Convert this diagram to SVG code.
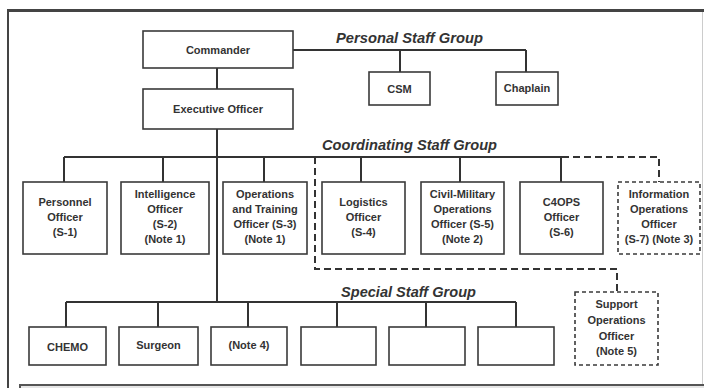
<svg xmlns="http://www.w3.org/2000/svg" width="704" height="388" viewBox="0 0 704 388">
<style>
.box{fill:#fff;stroke:#3a3a3a;stroke-width:1.6}
.dbox{fill:#fff;stroke:#3a3a3a;stroke-width:1.6;stroke-dasharray:4 3}
.ln{fill:none;stroke:#333;stroke-width:2}
.dln{fill:none;stroke:#333;stroke-width:2;stroke-dasharray:7 4}
.t{font-family:"Liberation Sans",Arial,sans-serif;font-weight:bold;font-size:11px;fill:#333;text-anchor:middle}
.g{font-family:"Liberation Sans",Arial,sans-serif;font-weight:bold;font-style:italic;font-size:15px;fill:#333}
</style>
<rect x="0" y="0" width="704" height="388" fill="#fff"/>
<g id="frame">
<line x1="8" y1="10.5" x2="704" y2="10.5" stroke="#444" stroke-width="3"/>
<line x1="8" y1="9" x2="8" y2="388" stroke="#444" stroke-width="2"/>
<line x1="702.5" y1="12" x2="702.5" y2="388" stroke="#ccc" stroke-width="1"/>
<rect x="20" y="385" width="690" height="12" fill="#e6e6e6" stroke="#555" stroke-width="2"/>
</g>
<g id="connectors">
<path class="ln" d="M217 68V89M217 129V302"/>
<path class="ln" d="M293 50H526M400 50V72M526 50V72"/>
<path class="ln" d="M64 157H562M64 157V182M163 157V182M264 157V182M361 157V182M460 157V182M561 157V182"/>
<path class="dln" d="M562 157H659V182"/>
<path class="dln" d="M315 157V269H617V292"/>
<path class="ln" d="M66 302H516M66 302V327M158 302V327M248 302V327M337 302V327M426 302V327M516 302V327"/>
</g>
<g id="labels">
<text class="g" x="336" y="43" textLength="147" lengthAdjust="spacingAndGlyphs">Personal Staff Group</text>
<text class="g" x="322" y="150" textLength="175" lengthAdjust="spacingAndGlyphs">Coordinating Staff Group</text>
<text class="g" x="341" y="297" textLength="135" lengthAdjust="spacingAndGlyphs">Special Staff Group</text>
</g>
<g id="commander"><rect class="box" x="143" y="31" width="150" height="37"/><text class="t" x="218" y="53.5">Commander</text></g>
<g id="xo"><rect class="box" x="143" y="89" width="150" height="40"/><text class="t" x="218" y="113">Executive Officer</text></g>
<g id="csm"><rect class="box" x="369" y="72" width="61" height="33"/><text class="t" x="399.5" y="92.5">CSM</text></g>
<g id="chaplain"><rect class="box" x="496" y="72" width="62" height="33"/><text class="t" x="527" y="91.5">Chaplain</text></g>
<g id="s1"><rect class="box" x="23" y="182" width="84" height="72"/><text class="t" x="65" y="206">Personnel</text><text class="t" x="65" y="221">Officer</text><text class="t" x="65" y="236">(S-1)</text></g>
<g id="s2"><rect class="box" x="121" y="182" width="88" height="72"/><text class="t" x="165" y="198">Intelligence</text><text class="t" x="165" y="213">Officer</text><text class="t" x="165" y="228">(S-2)</text><text class="t" x="165" y="243">(Note 1)</text></g>
<g id="s3"><rect class="box" x="223" y="182" width="84" height="72"/><text class="t" x="265" y="198">Operations</text><text class="t" x="265" y="213">and Training</text><text class="t" x="265" y="228">Officer (S-3)</text><text class="t" x="265" y="243">(Note 1)</text></g>
<g id="s4"><rect class="box" x="322" y="182" width="83" height="72"/><text class="t" x="363.5" y="206">Logistics</text><text class="t" x="363.5" y="221">Officer</text><text class="t" x="363.5" y="236">(S-4)</text></g>
<g id="s5"><rect class="box" x="421" y="182" width="83" height="72"/><text class="t" x="462.5" y="198">Civil-Military</text><text class="t" x="462.5" y="213">Operations</text><text class="t" x="462.5" y="228">Officer (S-5)</text><text class="t" x="462.5" y="243">(Note 2)</text></g>
<g id="s6"><rect class="box" x="520" y="182" width="83" height="72"/><text class="t" x="561.5" y="206">C4OPS</text><text class="t" x="561.5" y="221">Officer</text><text class="t" x="561.5" y="236">(S-6)</text></g>
<g id="s7"><rect class="dbox" x="618" y="182" width="82" height="72"/><text class="t" x="659" y="198">Information</text><text class="t" x="659" y="213">Operations</text><text class="t" x="659" y="228">Officer</text><text class="t" x="659" y="243">(S-7) (Note 3)</text></g>
<g id="chemo"><rect class="box" x="29" y="327" width="77" height="38"/><text class="t" x="67.5" y="351">CHEMO</text></g>
<g id="surgeon"><rect class="box" x="119" y="327" width="79" height="38"/><text class="t" x="158.5" y="349">Surgeon</text></g>
<g id="note4"><rect class="box" x="211" y="327" width="76" height="38"/><text class="t" x="249" y="349">(Note 4)</text></g>
<g id="blank1"><rect class="box" x="301" y="327" width="75" height="38"/></g>
<g id="blank2"><rect class="box" x="389" y="327" width="76" height="38"/></g>
<g id="blank3"><rect class="box" x="478" y="327" width="76" height="38"/></g>
<g id="support"><rect class="dbox" x="575" y="292" width="83" height="73"/><text class="t" x="616.5" y="308">Support</text><text class="t" x="616.5" y="324">Operations</text><text class="t" x="616.5" y="340">Officer</text><text class="t" x="616.5" y="355">(Note 5)</text></g>
</svg>
